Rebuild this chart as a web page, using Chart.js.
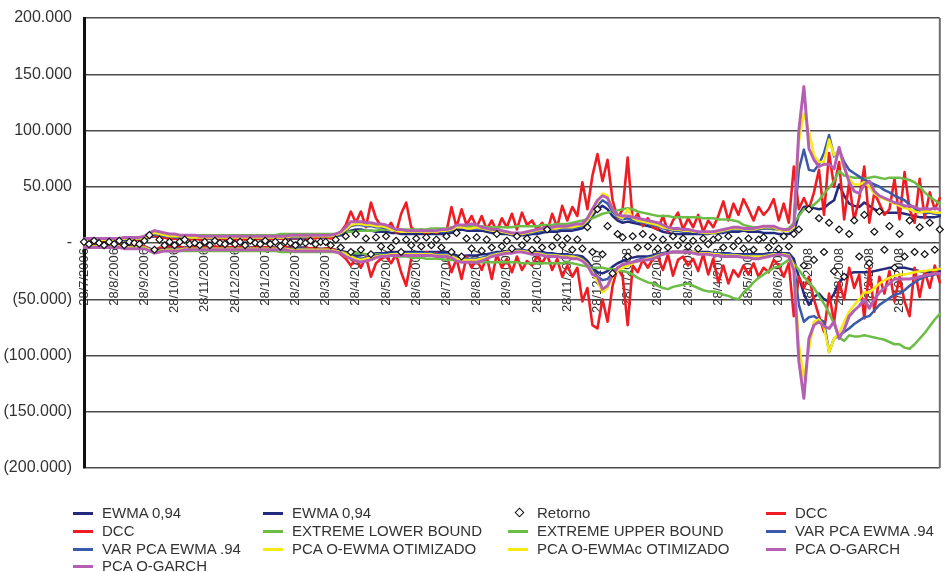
<!DOCTYPE html>
<html>
<head>
<meta charset="utf-8">
<script src="https://cdn.jsdelivr.net/npm/chart.js@4.4.1/dist/chart.umd.min.js"></script>
<style>
html,body{margin:0;padding:0;background:#fff;}
#wrap{position:relative;width:945px;height:572px;overflow:hidden;}
#c{position:absolute;left:0;top:0;}
#legend{position:absolute;left:0;top:0;width:945px;height:572px;font-family:"Liberation Sans",Arial,sans-serif;font-size:15px;color:#333;}
.lt{position:absolute;white-space:nowrap;line-height:18px;height:18px;}
.ls{position:absolute;width:20px;height:3px;}
.ld{position:absolute;width:5px;height:5px;border:1.3px solid #111;background:#fff;transform:rotate(45deg);}
</style>
</head>
<body>
<div id="wrap"><canvas id="c" width="945" height="490"></canvas><div id="legend"></div></div>
<script>
// x-axis tick labels (one per month); data has 6 readings per month
const tickLabels = ['28/7/2006','28/8/2006','28/9/2006','28/10/2006','28/11/2006','28/12/2006','28/1/2007','28/2/2007','28/3/2007','28/4/2007','28/5/2007','28/6/2007','28/7/2007','28/8/2007','28/9/2007','28/10/2007','28/11/2007','28/12/2007','28/1/2008','28/2/2008','28/3/2008','28/4/2008','28/5/2008','28/6/2008','28/7/2008','28/8/2008','28/9/2008','28/10/2008'];
const PER_MONTH = 6;

// values in thousands
const ewmaUpper = [
2,2,2,2,2,2, 2,2,3,3,3,3, 3,5,6,5,5,4, 4,4,4,4,4,4, 4,4,4,4,4,4, 4,4,4,4,4,4,
4,4,4,4,4,4, 4,4,4,5,5,5, 5,5,6,7,9,11, 12,12,11,11,10,10, 10,9,9,8,8,8, 8,8,8,8,8,8,
8,9,11,12,11,11, 11,11,10,9,9,8, 8,7,7,7,7,8, 8,9,10,10,10,11, 11,11,12,13,17,24, 30,33,30,24,20,18,
19,18,17,16,15,14, 12,10,9,8,8,8, 8,8,8,8,8,9, 9,9,10,10,10,11, 10,10,10,9,9,9, 8,8,8,10,25,32,
33,31,30,31,35,38, 52,42,35,33,32,36, 33,30,28,27,27,27, 27,26,25,24,23,23, 23,23,24];
const ewmaLower = [
-2,-2,-2,-2,-2,-2, -2,-2,-3,-3,-3,-3, -3,-5,-6,-5,-5,-4, -4,-4,-4,-4,-4,-4, -4,-4,-4,-4,-4,-4, -4,-4,-4,-4,-4,-4,
-4,-4,-4,-4,-4,-4, -4,-4,-4,-5,-5,-5, -5,-5,-6,-7,-8,-10, -11,-11,-10,-10,-9,-9, -9,-8,-8,-8,-8,-8, -8,-8,-8,-8,-8,-8,
-8,-9,-11,-12,-11,-11, -11,-10,-10,-9,-8,-8, -7,-7,-6,-6,-7,-7, -8,-8,-9,-9,-10,-10, -10,-11,-11,-12,-16,-22, -26,-27,-25,-21,-18,-16,
-14,-13,-12,-12,-12,-11, -10,-9,-8,-8,-8,-8, -8,-8,-8,-8,-8,-9, -9,-9,-9,-10,-10,-10, -10,-10,-10,-10,-9,-9, -9,-9,-9,-14,-30,-45,
-55,-48,-45,-50,-52,-45, -35,-30,-27,-26,-26,-26, -26,-25,-24,-23,-22,-22, -22,-22,-23,-24,-25,-26, -26,-25,-25];
const retorno = [
1,-1,2,0,-2,1, -1,2,-2,1,0,-1, 2,7,-6,3,-2,1, -2,1,3,-1,0,-2, 1,-2,2,0,-1,2, -1,1,-2,2,0,-1,
2,-1,1,-3,1,0, -2,1,0,2,-1,1, 1,-2,3,-4,6,-8, 8,-6,4,-10,5,-3, 6,-4,2,-8,3,-2, 4,-3,5,-2,3,-4,
6,-8,9,-12,4,-5, 5,-7,3,-4,8,-3, 2,-5,6,-2,4,-6, 3,-4,12,-3,5,-2, 4,-6,3,-5,14,-8, 30,-10,15,-27,8,5,
-12,6,-4,8,-3,5, -5,3,-4,6,-2,4, -3,2,-5,4,-1,3, 5,-4,6,-3,2,-5, 4,-6,3,5,-4,2, -5,6,-3,8,12,-20,
30,-15,22,-8,18,-25, 12,-30,8,20,-12,25, -18,10,28,-6,15,-22, 8,-12,20,-8,14,-10, 18,-6,12];
const dccUpper = [
2,3,2,4,2,3, 3,2,4,2,3,3, 3,5,7,4,5,3, 4,3,5,3,4,3, 3,5,3,4,3,4, 3,4,3,5,3,4,
4,3,5,4,3,5, 4,6,4,5,4,6, 5,4,7,10,16,28, 18,28,14,36,22,15, 12,18,9,26,36,14, 10,12,8,11,9,12,
10,32,14,30,16,24, 14,24,12,20,10,22, 14,26,12,27,16,20, 12,18,10,26,14,33, 20,32,24,54,30,60, 79,55,74,38,22,30,
76,20,26,15,22,14, 12,24,10,20,27,12, 22,14,25,10,20,14, 24,37,20,35,25,39, 30,20,32,25,30,39, 20,35,18,68,30,40,
30,45,65,25,80,50, 72,21,54,20,40,68, 18,45,35,25,30,57, 21,63,30,18,57,22, 45,30,40];
const dccLower = [
-2,-3,-2,-4,-2,-3, -3,-2,-4,-2,-3,-3, -3,-5,-7,-4,-5,-3, -4,-3,-5,-3,-4,-3, -3,-5,-3,-4,-3,-4, -3,-4,-3,-5,-3,-4,
-4,-3,-5,-4,-3,-5, -4,-6,-4,-5,-4,-6, -5,-4,-7,-10,-14,-20, -14,-22,-12,-30,-18,-14, -12,-18,-10,-26,-38,-14, -10,-12,-8,-11,-9,-12,
-10,-26,-14,-32,-12,-22, -14,-24,-12,-32,-10,-22, -14,-26,-12,-24,-16,-20, -12,-18,-10,-24,-14,-30, -20,-30,-22,-52,-40,-73, -76,-50,-70,-38,-22,-30,
-73,-20,-26,-15,-22,-14, -12,-24,-10,-29,-15,-12, -20,-14,-25,-10,-28,-14, -35,-20,-36,-24,-30,-20, -28,-18,-30,-22,-26,-15, -20,-30,-18,-65,-30,-40,
-30,-50,-65,-79,-45,-70, -35,-50,-22,-40,-28,-67, -22,-61,-30,-45,-25,-52, -30,-52,-65,-22,-48,-25, -40,-20,-35];
const extremeLower = [
-3,-3,-3,-3,-3,-3, -3,-3,-4,-4,-4,-4, -4,-6,-8,-8,-7,-7, -7,-7,-7,-7,-7,-7, -7,-7,-7,-7,-7,-7, -7,-7,-7,-7,-7,-7,
-7,-7,-7,-8,-8,-8, -8,-8,-8,-8,-8,-8, -8,-8,-8,-8,-9,-9, -9,-9,-10,-10,-10,-10, -11,-11,-12,-12,-12,-13, -13,-13,-14,-14,-14,-14,
-15,-15,-16,-16,-16,-17, -17,-17,-17,-17,-17,-17, -17,-17,-17,-18,-18,-18, -18,-18,-18,-18,-18,-18, -17,-18,-19,-20,-21,-22, -22,-22,-23,-23,-24,-25,
-26,-28,-31,-33,-35,-36, -38,-40,-41,-39,-38,-37, -36,-38,-40,-42,-43,-43, -44,-46,-47,-49,-50,-44, -40,-35,-31,-28,-25,-22, -21,-18,-15,-18,-24,-30,
-35,-40,-47,-54,-62,-72, -84,-87,-82,-83,-83,-82, -83,-84,-85,-86,-88,-90, -90,-93,-94,-90,-85,-80, -74,-68,-63];
const extremeUpper = [
3,3,3,3,3,3, 3,3,4,4,4,4, 4,6,8,8,7,7, 7,7,7,7,7,7, 7,7,7,7,7,7, 7,7,7,7,7,7,
7,7,7,8,8,8, 8,8,8,8,8,8, 8,8,8,9,10,10, 10,11,11,11,11,12, 12,12,12,12,12,12, 12,12,12,13,13,13,
13,14,14,15,15,15, 15,15,14,14,14,14, 14,14,15,15,15,15, 15,16,16,16,17,17, 17,18,19,20,21,22, 24,26,27,28,29,30,
31,30,28,27,26,25, 24,24,24,23,23,23, 23,23,23,22,22,22, 21,21,21,20,19,16, 15,14,14,13,13,12, 12,12,13,18,24,30,
31,34,38,44,49,55, 64,60,59,58,58,57, 58,59,58,57,58,58, 58,57,56,54,50,45, 41,38,35];
const varPcaUpper = [
3,3,3,3,3,3, 3,3,3,3,4,4, 4,6,8,7,6,6, 5,5,5,5,5,5, 5,5,5,5,5,5, 5,5,5,5,5,5,
5,5,5,5,5,5, 5,5,5,6,6,6, 6,6,7,8,11,15, 16,16,15,15,14,14, 13,12,11,10,10,10, 10,10,10,10,10,10,
10,11,13,14,13,13, 13,13,12,11,10,10, 9,8,8,8,8,9, 10,11,11,12,12,13, 13,13,14,15,19,26, 33,38,35,28,23,21,
22,20,19,18,17,16, 15,13,12,11,11,10, 10,10,9,9,9,9, 9,10,11,12,12,12, 12,12,12,13,13,13, 12,11,11,13,65,83,
65,64,70,80,96,77, 83,72,65,62,59,56, 54,52,50,47,45,42, 40,38,34,31,28,27, 27,26,26];
const varPcaLower = [
-3,-3,-3,-3,-3,-3, -3,-3,-3,-3,-4,-4, -4,-5,-7,-6,-6,-5, -5,-5,-5,-5,-5,-5, -5,-5,-5,-5,-5,-5, -5,-5,-5,-5,-5,-5,
-5,-5,-5,-5,-5,-5, -5,-5,-5,-6,-6,-6, -6,-6,-7,-8,-10,-12, -13,-14,-13,-12,-11,-10, -10,-10,-9,-9,-9,-9, -9,-9,-9,-9,-10,-10,
-10,-11,-13,-14,-14,-14, -14,-13,-12,-10,-9,-9, -8,-7,-7,-7,-7,-8, -9,-9,-10,-10,-11,-11, -11,-12,-12,-14,-18,-24, -30,-33,-32,-27,-22,-20,
-19,-17,-15,-14,-13,-12, -11,-10,-9,-8,-8,-8, -8,-8,-8,-9,-9,-9, -9,-10,-10,-10,-11,-11, -11,-11,-11,-11,-10,-10, -10,-10,-10,-18,-55,-70,
-66,-65,-68,-70,-97,-85, -82,-79,-76,-72,-69,-66, -65,-60,-55,-52,-49,-46, -45,-42,-38,-35,-32,-30, -29,-28,-27];
const pcaOEwma = [
-3,-3,-3,-3,-3,-3, -3,-3,-4,-4,-4,-4, -4,-6,-8,-7,-6,-6, -6,-6,-5,-5,-5,-5, -5,-5,-5,-5,-5,-5, -5,-5,-5,-5,-5,-5,
-5,-5,-5,-5,-5,-6, -6,-6,-6,-6,-6,-6, -6,-6,-7,-8,-10,-12, -14,-15,-14,-13,-12,-11, -11,-10,-10,-10,-10,-10, -10,-10,-10,-10,-11,-11,
-11,-12,-14,-15,-15,-15, -15,-14,-13,-11,-10,-9, -8,-8,-7,-7,-8,-9, -9,-10,-11,-11,-11,-12, -12,-12,-13,-15,-19,-26, -34,-44,-40,-30,-24,-22,
-20,-18,-16,-15,-14,-13, -11,-10,-9,-8,-8,-8, -8,-8,-9,-9,-9,-10, -10,-11,-11,-11,-11,-12, -12,-12,-12,-12,-11,-10, -10,-10,-11,-20,-90,-120,
-95,-70,-68,-75,-97,-85, -80,-70,-61,-55,-50,-44, -44,-40,-36,-33,-31,-29, -28,-28,-27,-26,-25,-25, -24,-24,-23];
const pcaOEwmac = [
3,3,3,3,3,3, 3,3,4,4,4,4, 4,7,9,8,7,6, 6,6,6,5,5,5, 5,5,5,5,5,5, 5,5,5,5,5,5,
5,5,5,5,5,6, 6,6,6,6,6,6, 6,6,7,9,12,16, 17,17,16,16,15,15, 14,12,11,10,10,10, 10,10,10,10,10,11,
11,12,14,14,13,13, 14,13,12,11,11,10, 9,8,8,8,9,10, 11,12,12,13,13,14, 14,14,15,16,20,27, 36,44,42,30,24,22,
30,22,20,19,18,17, 16,14,13,12,12,11, 11,10,10,9,9,9, 10,11,12,13,13,12, 12,12,13,14,14,14, 12,11,11,14,90,115,
100,78,72,72,92,78, 82,66,57,52,52,54, 50,44,41,39,37,35, 33,31,30,28,27,28, 28,27,27];
const pcaOGarchUpper = [
4,4,4,4,4,4, 4,4,5,5,5,5, 6,9,11,10,9,8, 8,7,7,7,7,6, 6,6,6,6,6,6, 6,6,6,6,6,6,
6,6,6,6,6,7, 7,7,7,7,7,7, 7,7,8,10,14,19, 19,19,18,18,17,17, 16,14,12,12,11,11, 11,11,11,11,11,12,
12,13,16,16,16,17, 16,14,13,12,12,11, 10,9,9,9,10,11, 12,13,14,14,15,15, 15,16,17,17,22,30, 38,42,40,30,25,24,
24,23,22,21,20,19, 18,16,14,13,13,12, 12,11,10,10,10,10, 11,12,13,14,14,13, 13,13,14,15,15,15, 13,12,12,16,100,139,
84,74,68,70,70,66, 85,68,54,46,44,52, 55,46,42,40,38,36, 35,33,33,32,30,31, 30,31,30];
const pcaOGarchLower = [
-4,-4,-4,-4,-4,-4, -4,-4,-5,-5,-5,-5, -5,-7,-9,-8,-7,-7, -7,-7,-6,-6,-6,-6, -6,-6,-6,-6,-6,-6, -6,-6,-6,-6,-6,-6,
-6,-6,-6,-6,-6,-7, -7,-7,-7,-7,-7,-7, -7,-7,-8,-9,-12,-14, -16,-17,-16,-15,-13,-12, -12,-11,-11,-11,-11,-11, -11,-11,-11,-11,-12,-12,
-12,-13,-16,-17,-17,-17, -17,-16,-14,-12,-11,-10, -9,-9,-8,-8,-9,-10, -10,-11,-12,-12,-12,-13, -13,-14,-14,-16,-20,-28, -30,-41,-38,-28,-22,-19,
-18,-17,-16,-15,-15,-14, -12,-10,-9,-8,-8,-8, -8,-9,-10,-10,-10,-11, -11,-12,-12,-12,-12,-13, -13,-14,-14,-13,-12,-11, -10,-11,-12,-24,-105,-138,
-85,-73,-70,-74,-76,-70, -85,-77,-65,-60,-56,-50, -58,-50,-44,-40,-36,-32, -32,-32,-32,-31,-30,-29, -28,-27,-27];

const N = ewmaUpper.length;
[ewmaLower,retorno,dccUpper,dccLower,extremeLower,extremeUpper,varPcaUpper,varPcaLower,pcaOEwma,pcaOEwmac,pcaOGarchUpper,pcaOGarchLower].forEach((a,i)=>{ if(a.length!==N) throw new Error('length mismatch '+i+': '+a.length+' vs '+N); });

const categories = Array.from({length:N},(_,j)=> (j%PER_MONTH===0 && tickLabels[j/PER_MONTH]) ? tickLabels[j/PER_MONTH] : '');

const NAVY='#222b7c', RED='#ee1d24', GREEN='#6cbd45', BLUE='#3c5aaa', YELLOW='#f6ea14', PURPLE='#b45fb2';
function line(label,data,color,order,w){
  return {label,data,borderColor:color,backgroundColor:color,borderWidth:w,pointRadius:0,pointHoverRadius:0,tension:0,fill:false,order,borderJoinStyle:'round',borderCapStyle:'round'};
}
const datasets = [
  line('EWMA 0,94', ewmaUpper, NAVY, 12, 2.5),
  line('EWMA 0,94', ewmaLower, NAVY, 11, 2.5),
  {label:'Retorno', data:retorno, showLine:false, pointStyle:'rectRot', pointRadius:3.5, pointBackgroundColor:'#fff', pointBorderColor:'#111', pointBorderWidth:1.2, borderColor:'#111', backgroundColor:'#fff', order:-1},
  line('DCC', dccUpper, RED, 9, 2.6),
  line('DCC', dccLower, RED, 8, 2.6),
  line('EXTREME LOWER BOUND', extremeLower, GREEN, 7, 2.5),
  line('EXTREME UPPER BOUND', extremeUpper, GREEN, 6, 2.5),
  line('VAR PCA EWMA .94', varPcaUpper, BLUE, 5, 2.5),
  line('VAR PCA EWMA .94', varPcaLower, BLUE, 4, 2.5),
  line('PCA O-EWMA OTIMIZADO', pcaOEwma, YELLOW, 3, 2.5),
  line('PCA O-EWMAc OTIMIZADO', pcaOEwmac, YELLOW, 2, 2.5),
  line('PCA O-GARCH', pcaOGarchUpper, PURPLE, 1, 3),
  line('PCA O-GARCH', pcaOGarchLower, PURPLE, 0, 3)
];

function fmtY(v){ if(v===0) return '-'; return v>0 ? v+'.000' : '('+(-v)+'.000)'; }

const rightBorder = {id:'rightBorder', beforeDatasetsDraw(chart){ const {ctx,chartArea:a}=chart; ctx.save(); ctx.strokeStyle='#6e6e6e'; ctx.lineWidth=2; ctx.beginPath(); ctx.moveTo(a.right,a.top); ctx.lineTo(a.right,a.bottom); ctx.stroke(); ctx.restore(); }};

const FONT = '"Liberation Sans", Arial, sans-serif';
const chart = new Chart(document.getElementById('c'), {
  type:'line',
  data:{labels:categories, datasets},
  plugins:[rightBorder],
  options:{
    responsive:false, animation:false, devicePixelRatio:1,
    layout:{padding:{left:0,right:5,top:18,bottom:22}},
    plugins:{legend:{display:false}, tooltip:{enabled:false}},
    scales:{
      x:{type:'category', position:{y:0}, offset:false, z:1,
         grid:{display:false, drawTicks:false}, border:{display:false},
         ticks:{autoSkip:false, maxRotation:90, minRotation:90, padding:5, color:'#333', font:{family:FONT, size:13}, callback:(v,i)=>categories[i]},
         afterFit:(s)=>{ s.paddingLeft = 0; s.paddingRight = 0; s.paddingTop = 0; s.paddingBottom = 0; }},
      y:{min:-200, max:200,
         ticks:{stepSize:50, padding:12, color:'#333', font:{family:FONT, size:16}, callback:fmtY},
         grid:{color:'#4d4d4d', lineWidth:1.5, drawTicks:false},
         border:{display:true, color:'#111', width:3},
         afterFit:(s)=>{ s.width = 84; s.paddingTop = 0; s.paddingBottom = 0; }}
    }
  }
});

// legend, 4 columns
const cols = [{sw:73,tx:102},{sw:263,tx:292},{sw:508,tx:537},{sw:766,tx:795}];
const rowsY = [513,531,549,566];
const lg = document.getElementById('legend');
datasets.forEach((d,i)=>{
  const c = cols[i%4], y = rowsY[Math.floor(i/4)];
  if(d.label==='Retorno'){
    const m=document.createElement('div'); m.className='ld'; m.style.left=(c.sw+8)+'px'; m.style.top=(y-4)+'px'; lg.appendChild(m);
  } else {
    const s=document.createElement('div'); s.className='ls'; s.style.left=c.sw+'px'; s.style.top=(y-1.5)+'px'; s.style.background=d.borderColor; lg.appendChild(s);
  }
  const t=document.createElement('div'); t.className='lt'; t.style.left=c.tx+'px'; t.style.top=(y-9)+'px'; t.textContent=d.label; lg.appendChild(t);
});
</script>
</body>
</html>
